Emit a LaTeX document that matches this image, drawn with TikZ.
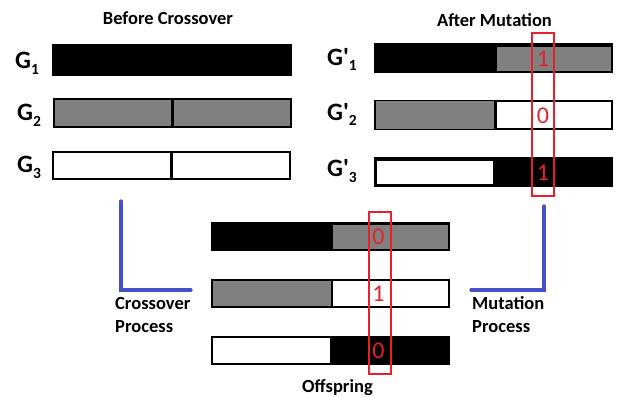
\documentclass[tikz,border=0pt]{standalone}
\usepackage{fontspec}
\setmainfont{Carlito}
\newfontfamily\glabfont{Carlito}[Ligatures=TeXOff]
\definecolor{bargray}{HTML}{808080}
\definecolor{mutred}{HTML}{E8202A}
\definecolor{procblue}{HTML}{4450C8}
\newcommand{\glab}[2]{\glabfont\fontsize{25}{25}\selectfont\bfseries #1\raisebox{-0.22em}{\fontsize{15.5}{15.5}\selectfont #2}}
\begin{document}
\begin{tikzpicture}[x=1pt,y=-1pt,
  barbox/.style={draw=black, line width=2.5pt, inner sep=0pt, outer sep=0pt, minimum width=237pt},
  divider/.style={draw=black, line width=2.5pt},
  redbox/.style={draw=mutred, line width=2pt, inner sep=0pt, minimum width=22pt},
  redtxt/.style={text=mutred, font=\fontsize{24}{24}\selectfont, inner sep=0pt},
  title/.style={font=\fontsize{18.5}{20}\selectfont\bfseries, inner sep=0pt, anchor=base},
  proctxt/.style={font=\fontsize{18.5}{23}\selectfont\bfseries, inner sep=0pt, align=left, anchor=north west},
  glabel/.style={inner sep=0pt, anchor=base west},
  procline/.style={draw=procblue, line width=3.2pt, line cap=round}]
\useasboundingbox (0,0) rectangle (619,397);

% titles
\node[title] (tb) at (168,24) {Before Crossover};
\node[title] (ta) at (494.5,26) {After Mutation};
\node[title] (to) at (337.5,392) {Offspring};

% before crossover bars
\node[barbox, fill=black, minimum height=30pt] (g1) at (172,60) {};
\node[barbox, fill=bargray, minimum height=28pt] (g2) at (172.5,113) {};
\draw[divider] (g2.north) -- (g2.south);
\node[barbox, fill=white, minimum height=27pt] (g3) at (171.5,165.5) {};
\draw[divider] (g3.north) -- (g3.south);

\node[glabel] (l1) at (15,68.5) {\glab{G}{1}};
\node[glabel] (l2) at (17,120.5) {\glab{G}{2}};
\node[glabel] (l3) at (17,172.5) {\glab{G}{3}};

% after mutation bars
\node[barbox, fill=black, minimum height=28pt] (m1) at (493.5,58) {};
\fill[bargray] (497,46.5) rectangle (610.75,70.75);
\node[barbox, fill=white, minimum height=28pt] (m2) at (493.5,115) {};
\fill[bargray] (376.25,101.25) rectangle (494.5,128.75);
\draw[divider] (495.5,101) -- (495.5,129);
\node[barbox, fill=black, minimum height=28pt] (m3) at (493.5,172) {};
\fill[white] (377,160.5) rectangle (493,184);

\node[glabel] (k1) at (327,65) {\glab{G'}{1}};
\node[glabel] (k2) at (327,120) {\glab{G'}{2}};
\node[glabel] (k3) at (327,176.5) {\glab{G'}{3}};

\node[redbox, minimum height=163pt] (rm) at (543,114.5) {};
\node[redtxt] (d1) at (543,59) {1};
\node[redtxt] (d2) at (543,116) {0};
\node[redtxt] (d3) at (543,173) {1};

% offspring bars
\node[barbox, fill=black, minimum height=27pt] (o1) at (330.5,236.5) {};
\fill[bargray] (333,225) rectangle (447.75,248.75);
\node[barbox, fill=white, minimum height=27pt] (o2) at (330.5,293.5) {};
\fill[bargray] (213.25,281.25) rectangle (331,305.75);
\draw[divider] (332,281) -- (332,306);
\node[barbox, fill=black, minimum height=27pt] (o3) at (330.5,350.5) {};
\fill[white] (213,338) rectangle (330,363);

\node[redbox, minimum height=162pt] (ro) at (379.5,293) {};
\node[redtxt] (e1) at (378.5,237) {0};
\node[redtxt] (e2) at (378.5,294) {1};
\node[redtxt] (e3) at (378.5,351) {0};

% process lines
\coordinate (cxtop) at (121,201);
\coordinate (cxend) at (191,290);
\draw[procline] (cxtop) |- (cxend);
\coordinate (mtstart) at (471,290);
\coordinate (mttop) at (544,206);
\draw[procline] (mtstart) -| (mttop);

\node[proctxt] (cp) at (115,297) {Crossover\\Process};
\node[proctxt] (mp) at (472,296) {Mutation\\Process};
\end{tikzpicture}
\end{document}
